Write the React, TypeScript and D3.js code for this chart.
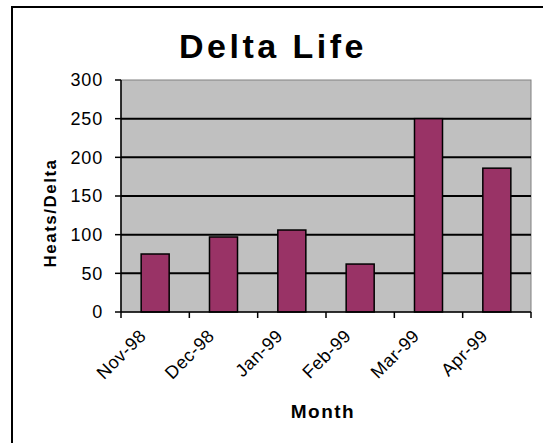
import React from "react";
import * as d3 from "d3";

const months = ["Nov-98", "Dec-98", "Jan-99", "Feb-99", "Mar-99", "Apr-99"];
const heatsPerDelta = [75, 97, 106, 62, 250, 186];
const yTicks = [0, 50, 100, 150, 200, 250, 300];
const title = "Delta Life";
const xTitle = "Month";
const yTitle = "Heats/Delta";

const FONT = "'Liberation Sans', Arial, sans-serif";

export default function App() {
  const W = 543;
  const H = 443;
  const plotL = 121;
  const plotR = 531;
  const plotT = 80;
  const plotB = 312;

  const x = d3
    .scaleBand<string>()
    .domain(months)
    .range([plotL, plotR])
    .paddingInner(0.59)
    .paddingOuter(0.295);
  const step = x.step();
  const y = d3.scaleLinear().domain([0, 300]).range([plotB, plotT]);

  const boundaries = d3.range(months.length + 1).map((i) => plotL + i * step);

  return (
    <svg
      width={W}
      height={H}
      style={{ position: "absolute", left: 0, top: 0, background: "#fff" }}
    >
      <rect x={0} y={0} width={W} height={H} fill="#fff" />
      {/* outer frame */}
      <rect x={12} y={7} width={W + 10} height={H + 10} fill="none" stroke="#000" strokeWidth={2} />

      {/* title */}
      <text
        x={273}
        y={58}
        textAnchor="middle"
        fontFamily={FONT}
        fontWeight="bold"
        fontSize={34}
        letterSpacing={3.5}
        fill="#000"
      >
        {title}
      </text>

      {/* plot area */}
      <rect x={plotL} y={plotT} width={plotR - plotL} height={plotB - plotT} fill="#c0c0c0" stroke="#808080" strokeWidth={1} />

      {/* gridlines */}
      {yTicks
        .filter((t) => t > 0 && t < 300)
        .map((t) => (
          <line key={"g" + t} x1={plotL} x2={plotR} y1={y(t)} y2={y(t)} stroke="#000" strokeWidth={2} />
        ))}

      {/* bars */}
      {months.map((m, i) => (
        <rect
          key={m}
          x={x(m)}
          y={y(heatsPerDelta[i])}
          width={x.bandwidth()}
          height={y(0) - y(heatsPerDelta[i])}
          fill="#993366"
          stroke="#000"
          strokeWidth={1.5}
        />
      ))}

      {/* y axis */}
      <line x1={plotL} x2={plotL} y1={plotT} y2={plotB} stroke="#000" strokeWidth={1.5} />
      {yTicks.map((t) => (
        <g key={"yt" + t}>
          <line x1={plotL - 6} x2={plotL} y1={y(t)} y2={y(t)} stroke="#000" strokeWidth={1.5} />
          <text
            x={103}
            y={y(t)}
            dy="0.36em"
            textAnchor="end"
            fontFamily={FONT}
            fontSize={18}
            letterSpacing={0.8}
            fill="#000"
          >
            {t}
          </text>
        </g>
      ))}

      {/* x axis */}
      <line x1={plotL} x2={plotR} y1={plotB} y2={plotB} stroke="#000" strokeWidth={1.5} />
      {boundaries.map((bx, i) => (
        <line key={"xt" + i} x1={bx} x2={bx} y1={plotB} y2={plotB + 6} stroke="#000" strokeWidth={1.5} />
      ))}
      {months.map((m) => {
        const cx = (x(m) as number) + x.bandwidth() / 2;
        return (
          <text
            key={"xl" + m}
            transform={`translate(${cx - 8},${plotB + 25}) rotate(-45)`}
            textAnchor="end"
            fontFamily={FONT}
            fontSize={18}
            letterSpacing={0.5}
            fill="#000"
          >
            {m}
          </text>
        );
      })}

      {/* axis titles */}
      <text
        x={(plotL + plotR) / 2 - 3}
        y={418}
        textAnchor="middle"
        fontFamily={FONT}
        fontWeight="bold"
        fontSize={19}
        letterSpacing={1.5}
        fill="#000"
      >
        {xTitle}
      </text>
      <text
        transform={`translate(56,213) rotate(-90)`}
        textAnchor="middle"
        fontFamily={FONT}
        fontWeight="bold"
        fontSize={17}
        letterSpacing={1.5}
        fill="#000"
      >
        {yTitle}
      </text>
    </svg>
  );
}
